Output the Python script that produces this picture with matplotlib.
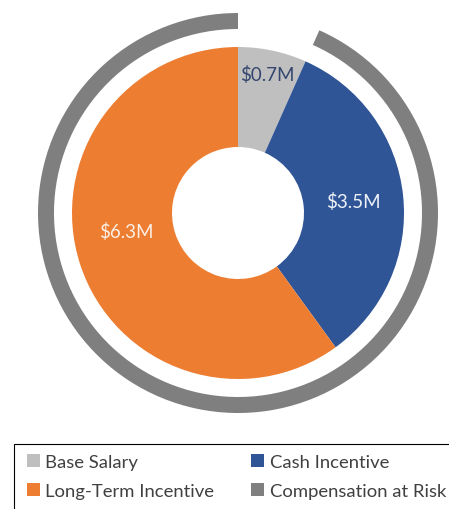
import numpy as np
import matplotlib.pyplot as plt
from matplotlib.patches import Patch, Rectangle

plt.rcParams['font.family'] = ['Lato', 'DejaVu Sans']

# Vergütungsbestandteile (Mio. $)
components = ['Base Salary', 'Cash Incentive', 'Long-Term Incentive']
values = [0.7, 3.5, 6.3]
labels = ['$0.7M', '$3.5M', '$6.3M']
colors = ['#BFBFBF', '#2F5597', '#ED7D31']
label_colors = ['#34466E', '#EEF2F8', '#FBEFE6']

# Äußerer Ring: variabler Anteil (Cash + LTI), Fixgehalt bleibt frei
risk_name = 'Compensation at Risk'
risk_values = [values[0], values[1] + values[2]]
risk_color = '#7F7F7F'

W, H = 449, 510
fig = plt.figure(figsize=(W / 100, H / 100), dpi=100)
ax = fig.add_axes([38 / W, 96 / H, 400 / W, 400 / H])

# innerer Donut
r_in = 0.83
ax.pie(values, colors=colors, radius=r_in, startangle=90, counterclock=False,
       wedgeprops=dict(width=0.5, edgecolor='none'))

# äußerer Ring
ax.pie(risk_values, colors=['none', risk_color], radius=1.0, startangle=90,
       counterclock=False, wedgeprops=dict(width=0.08, edgecolor='none'))

# Beschriftungen in den Segmenten
total = sum(values)
label_r = [0.71, 0.58, 0.565]
label_shift = [0, 0, 9]
start = 0
for v, txt, c, r, s in zip(values, labels, label_colors, label_r, label_shift):
    mid = np.deg2rad(start + v / total * 360 / 2 + s)
    ax.text(r * np.sin(mid), r * np.cos(mid), txt, ha='center', va='center',
            fontsize=13.5, color=c)
    start += v / total * 360

ax.set_xlim(-1, 1)
ax.set_ylim(-1, 1)
ax.set_aspect('equal')
ax.axis('off')

# Legende (spaltenweise: Base/LTI, Cash/Risk)
handles = [Patch(facecolor=colors[0], label=components[0]),
           Patch(facecolor=colors[2], label=components[2]),
           Patch(facecolor=colors[1], label=components[1]),
           Patch(facecolor=risk_color, label=risk_name)]
leg = fig.legend(handles=handles, ncol=2, loc='upper left',
                 bbox_to_anchor=(27 / W, 1 - 455 / H),
                 fontsize=13.3, frameon=False,
                 handlelength=0.7, handleheight=0.7, handletextpad=0.3,
                 columnspacing=2.0, labelspacing=0.7,
                 borderaxespad=0, borderpad=0, labelcolor='#404040')

# Rahmen um die Legende, rechts angeschnitten
fig.patches.append(Rectangle((14 / W, -0.01), 1.0, (510 - 445) / H + 0.01,
                             transform=fig.transFigure, fill=False,
                             edgecolor='black', linewidth=0.8))

fig.savefig('out.png', dpi=100)
